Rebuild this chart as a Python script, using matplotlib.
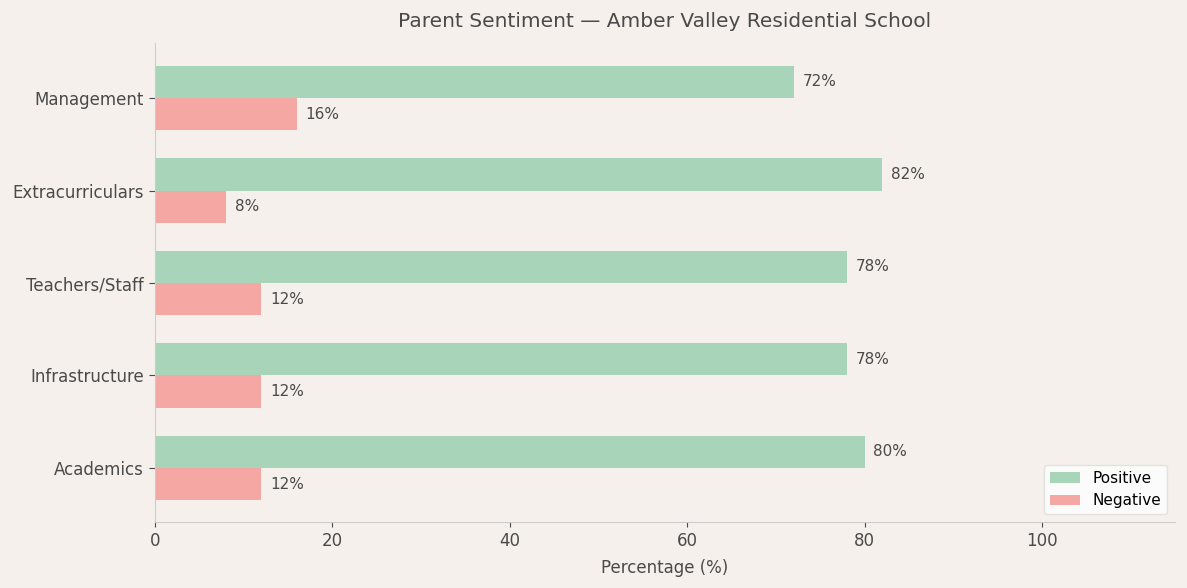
import matplotlib
matplotlib.use("Agg")
import matplotlib.pyplot as plt
import numpy as np

categories = ["Academics", "Infrastructure", "Teachers/Staff", "Extracurriculars", "Management"]
positive = [80, 78, 78, 82, 72]
negative = [12, 12, 12, 8, 16]

bg = "#f5f0ec"
text_c = "#4a4a4a"
pos_c = "#a8d5ba"
neg_c = "#f4a7a3"

fig = plt.figure(figsize=(11.87, 5.88), dpi=100, facecolor=bg)
ax = fig.add_axes([155/1187, 1-522/588, (1175-155)/1187, (522-43)/588])
ax.set_facecolor(bg)

y = np.arange(len(categories))
h = 0.35
ax.barh(y + h/2, positive, height=h, color=pos_c, label="Positive")
ax.barh(y - h/2, negative, height=h, color=neg_c, label="Negative")

for yi, v in zip(y, positive):
    ax.text(v + 1, yi + h/2, f"{v}%", va="center", ha="left", fontsize=11, color=text_c)
for yi, v in zip(y, negative):
    ax.text(v + 1, yi - h/2, f"{v}%", va="center", ha="left", fontsize=11, color=text_c)

ax.set_yticks(y)
ax.set_yticklabels(categories, fontsize=12, color=text_c)
ax.set_xlim(0, 115)
ax.set_ylim(-0.584, 4.595)
ax.set_xticks([0, 20, 40, 60, 80, 100])
ax.tick_params(axis="x", labelsize=12, colors=text_c)
ax.tick_params(axis="y", colors=text_c, length=4.5)
ax.set_xlabel("Percentage (%)", fontsize=12, color=text_c, labelpad=6.5)
ax.set_title("Parent Sentiment \u2014 Amber Valley Residential School", fontsize=14.5, color=text_c, pad=11.5)

for s in ["top", "right"]:
    ax.spines[s].set_visible(False)
for s in ["left", "bottom"]:
    ax.spines[s].set_color("#cccccc")

leg = ax.legend(loc="lower right", fontsize=11, frameon=True)
leg.get_frame().set_edgecolor("#dddddd")

fig.savefig("out.png", dpi=100, facecolor=bg)
